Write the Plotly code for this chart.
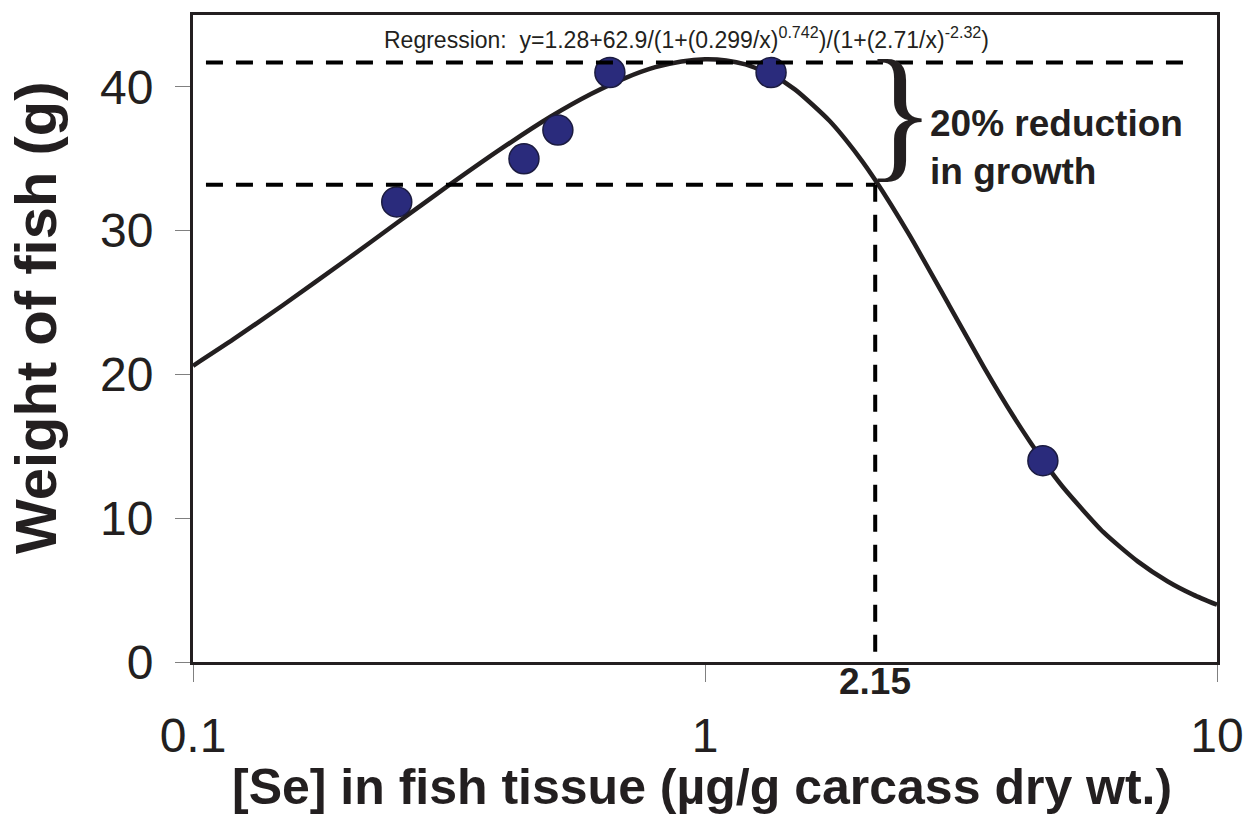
import plotly.graph_objects as go
import numpy as np

# Observed data
se_obs = [0.25, 0.443, 0.516, 0.652, 1.346, 4.57]
wt_obs = [32.0, 35.0, 37.0, 41.0, 41.0, 14.0]

# Regression curve values
se_curve = [0.1, 0.12, 0.15, 0.2, 0.25, 0.3, 0.4, 0.5, 0.6, 0.7, 0.8, 0.9, 1.0, 1.1, 1.2,
            1.35, 1.5, 1.75, 2.0, 2.15, 2.5, 3.0, 3.5, 4.0, 4.57, 5.0, 6.0, 7.0, 8.0, 9.0, 10.0]
wt_curve = [20.60, 22.45, 24.83, 28.01, 30.53, 32.58, 35.70, 37.94, 39.52, 40.63, 41.37, 41.77,
            41.92, 41.84, 41.56, 40.84, 39.81, 37.64, 35.12, 33.52, 29.77, 24.79, 20.55,
            17.11, 14.02, 12.17, 9.03, 7.00, 5.62, 4.67, 3.98]

# Reference lines
max_x = [0.106, 9.0]
max_y = [41.7, 41.7]
red_x = [0.106, 2.15]
red_y = [33.2, 33.2]
ec_x = [2.15, 2.15]
ec_y = [33.2, 0.0]
ec_label = "2.15"

x_tickvals = [0.1, 1, 10]
x_ticktext = ["0.1", "1", "10"]
y_tickvals = [0, 10, 20, 30, 40]

INK = "#231f20"
FONT = "Liberation Sans, Arial, sans-serif"

fig = go.Figure()
fig.add_trace(go.Scatter(x=se_curve, y=wt_curve, mode="lines",
                         line=dict(color=INK, width=4.5, shape="spline", smoothing=0.6),
                         showlegend=False))
fig.add_trace(go.Scatter(x=se_obs, y=wt_obs, mode="markers",
                         marker=dict(size=30, color="#2a2b7c",
                                     line=dict(color="#1b1b40", width=1.5)),
                         showlegend=False))
dash = "17px,13px"
for xs, ys in [(max_x, max_y), (red_x, red_y), (ec_x, ec_y)]:
    fig.add_trace(go.Scatter(x=xs, y=ys, mode="lines",
                             line=dict(color="black", width=4, dash=dash),
                             hoverinfo="skip", showlegend=False))

fig.update_xaxes(type="log", range=[-1, 1], tickvals=x_tickvals, ticktext=x_ticktext,
                 automargin=False,
                 showgrid=False, zeroline=False, showline=True, linewidth=3, linecolor=INK,
                 mirror=True, ticks="outside", ticklen=17, tickwidth=1.2, tickcolor="#808080",
                 tickfont=dict(family=FONT, size=48, color=INK), ticklabelstandoff=12)
fig.update_yaxes(range=[0, 45], tickvals=y_tickvals, automargin=False,
                 showgrid=False, zeroline=False, showline=True, linewidth=3, linecolor=INK,
                 mirror=True, ticks="outside", ticklen=15, tickwidth=1.2, tickcolor="#808080",
                 tickfont=dict(family=FONT, size=48, color=INK), ticklabelstandoff=12)

W, H = 1247, 816
L, R, T, B = 193, 30, 15, 154
pw, ph = W - L - R, H - T - B

def px(xpix):
    return (xpix - L) / pw

def py(ypix):
    return (H - B - ypix) / ph

ann = []
ann.append(dict(text="Weight of fish (g)", x=px(36), y=py(318), xref="paper", yref="paper",
                xanchor="center", yanchor="middle", textangle=-90, showarrow=False,
                font=dict(family=FONT, size=58, color=INK, weight="bold")))
ann.append(dict(text="[Se] in fish tissue (µg/g carcass dry wt.)", x=px(702), y=py(787),
                xref="paper", yref="paper", xanchor="center", yanchor="middle", showarrow=False,
                font=dict(family=FONT, size=50, color=INK, weight="bold")))
ann.append(dict(text="Regression:  y=1.28+62.9/(1+(0.299/x)<sup>0.742</sup>)/(1+(2.71/x)<sup>-2.32</sup>)",
                x=px(686), y=py(38), xref="paper", yref="paper", xanchor="center", yanchor="middle",
                showarrow=False, font=dict(family=FONT, size=23, color=INK)))
ann.append(dict(text="}", x=px(899), y=py(112), xref="paper", yref="paper",
                xanchor="center", yanchor="middle", showarrow=False,
                font=dict(family="Liberation Serif, serif", size=148, color=INK)))
ann.append(dict(text="<b>20% reduction<br>in growth</b>", x=px(928), y=py(148),
                xref="paper", yref="paper", xanchor="left", yanchor="middle", align="left",
                showarrow=False, font=dict(family=FONT, size=37, color=INK)))
ann.append(dict(text="<b>" + ec_label + "</b>", x=np.log10(ec_x[0]), y=py(681),
                xref="x", yref="paper", xanchor="center", yanchor="middle", showarrow=False,
                font=dict(family=FONT, size=37, color=INK)))

fig.update_layout(width=W, height=H, margin=dict(l=L, r=R, t=T, b=B),
                  paper_bgcolor="white", plot_bgcolor="white", annotations=ann)

fig.write_html("out.html", config={"displayModeBar": False},
               post_script="document.body.style.margin='0';")
